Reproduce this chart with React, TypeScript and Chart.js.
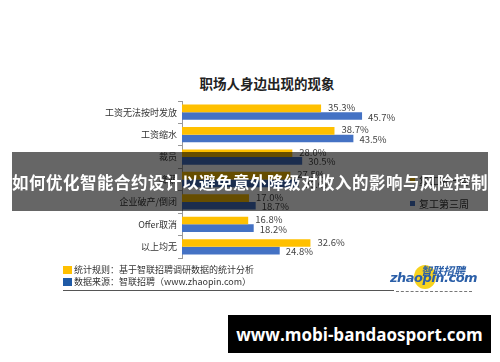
import React, { useEffect, useRef } from "react";
import { Chart, registerables } from "chart.js";

Chart.register(...registerables);

const categories = ["工资无法按时发放", "工资缩水", "裁员", "降薪", "企业破产/倒闭", "Offer取消", "以上均无"];
const week1Values = [35.3, 38.7, 28.0, 27.5, 17.0, 16.8, 32.6];
const week3Values = [45.7, 43.5, 30.5, 29.6, 18.7, 18.2, 24.8];
const seriesNames = ["复工第一周", "复工第三周"];
const seriesColors = ["#FFC000", "#4472C4"];
const xMax = 50;

const FONT = '"Noto Sans CJK SC", "Noto Sans", sans-serif';

const valueLabels = {
  id: "valueLabels",
  afterDatasetsDraw(chart: any) {
    const ctx = chart.ctx;
    ctx.save();
    ctx.font = `9.5px ${FONT}`;
    ctx.fillStyle = "#444";
    ctx.textBaseline = "middle";
    ctx.textAlign = "left";
    chart.data.datasets.forEach((ds: any, i: number) => {
      const meta = chart.getDatasetMeta(i);
      meta.data.forEach((bar: any, j: number) => {
        const v = ds.data[j];
        ctx.fillText(v.toFixed(1) + "%", bar.x + (i === 0 ? 7 : 6), bar.y + (i === 0 ? -1 : 1));
      });
    });
    ctx.restore();
  },
};

export default function App() {
  const ref = useRef<HTMLCanvasElement | null>(null);

  useEffect(() => {
    if (!ref.current) return;
    const chart = new Chart(ref.current, {
      type: "bar",
      data: {
        labels: categories,
        datasets: [
          { label: seriesNames[0], data: week1Values, backgroundColor: seriesColors[0], categoryPercentage: 0.68, barPercentage: 1 },
          { label: seriesNames[1], data: week3Values, backgroundColor: seriesColors[1], categoryPercentage: 0.68, barPercentage: 1 },
        ],
      },
      options: {
        indexAxis: "y",
        animation: false,
        responsive: false,
        devicePixelRatio: 1,
        layout: { padding: { top: 101, bottom: 104, left: 0, right: 121 } },
        plugins: { legend: { display: false }, tooltip: { enabled: false }, title: { display: false } },
        scales: {
          x: { display: false, min: 0, max: xMax },
          y: {
            afterFit: (axis: any) => {
              axis.width = 182;
            },
            grid: { drawOnChartArea: false, drawTicks: true, tickLength: 4, color: "#999", offset: true },
            border: { display: true, color: "#999" },
            ticks: { color: "#333", padding: 1, font: { size: 9, family: FONT } },
          },
        },
      },
      plugins: [valueLabels],
    });
    return () => chart.destroy();
  }, []);

  const legendRow = (i: number, top: number) => (
    <div style={{ position: "absolute", left: 410, top, display: "flex", alignItems: "center", fontSize: 10, color: "#333", fontFamily: FONT }}>
      <span style={{ width: 5, height: 5, background: seriesColors[i], marginRight: 4, display: "inline-block" }} />
      {seriesNames[i]}
    </div>
  );

  return (
    <div style={{ position: "absolute", left: 0, top: 0, width: 500, height: 362, background: "#fff", overflow: "hidden", fontFamily: FONT }}>
      <div style={{ position: "absolute", left: 0, width: 534, top: 73, textAlign: "center", fontSize: 13.5, fontWeight: 700, color: "#222" }}>
        职场人身边出现的现象
      </div>
      <canvas ref={ref} width={500} height={362} style={{ position: "absolute", left: 0, top: 0 }} />
      {legendRow(0, 173)}
      {legendRow(1, 196)}

      {/* footer notes */}
      <div style={{ position: "absolute", left: 63, top: 264, fontSize: 9, color: "#333", lineHeight: "12px" }}>
        <div style={{ display: "flex", alignItems: "center" }}>
          <span style={{ width: 9, height: 8, background: "#FFC000", marginRight: 2, display: "inline-block" }} />
          统计规则：基于智联招聘调研数据的统计分析
        </div>
        <div style={{ display: "flex", alignItems: "center" }}>
          <span style={{ width: 9, height: 8, background: "#1F5AA6", marginRight: 2, display: "inline-block" }} />
          数据来源：智联招聘（www.zhaopin.com）
        </div>
      </div>
      <div style={{ position: "absolute", left: 63, top: 290, width: 331, height: 0, borderTop: "1.5px solid #555" }} />
      <div style={{ position: "absolute", left: 396, top: 291, width: 76, height: 0, borderTop: "1.5px dashed #777" }} />

      {/* zhaopin logo */}
      <div style={{ position: "absolute", left: 414, top: 265, width: 22, height: 24, borderRadius: "50%", background: "#F7D21E" }} />
      <div style={{ position: "absolute", left: 421, top: 262, fontSize: 11, fontWeight: 700, fontStyle: "italic", color: "#2B5FA8", letterSpacing: 0 }}>
        智联招聘
      </div>
      <div style={{ position: "absolute", left: 390, top: 270, fontSize: 13, fontWeight: 700, fontStyle: "italic", color: "#2B5FA8", fontFamily: '"DejaVu Sans", sans-serif', letterSpacing: -0.5 }}>
        zhaopin.com
      </div>

      {/* headline banner */}
      <div
        style={{
          position: "absolute",
          left: 12,
          top: 152,
          width: 476,
          height: 59,
          background: "rgba(0,0,0,0.6)",
          color: "#fff",
          fontSize: 16.5,
          fontWeight: 700,
          letterSpacing: 0.5,
          display: "flex",
          alignItems: "center",
          justifyContent: "center",
          whiteSpace: "nowrap",
        }}
      >
        如何优化智能合约设计以避免意外降级对收入的影响与风险控制
      </div>

      {/* site badge */}
      <div
        style={{
          position: "absolute",
          left: 228,
          top: 315,
          width: 263,
          height: 38,
          background: "#000",
          color: "#fff",
          fontSize: 17,
          fontWeight: 700,
          fontFamily: '"Open Sans", "DejaVu Sans", sans-serif',
          display: "flex",
          alignItems: "center",
          justifyContent: "center",
          whiteSpace: "nowrap",
        }}
      >
        www.mobi-bandaosport.com
      </div>
    </div>
  );
}
